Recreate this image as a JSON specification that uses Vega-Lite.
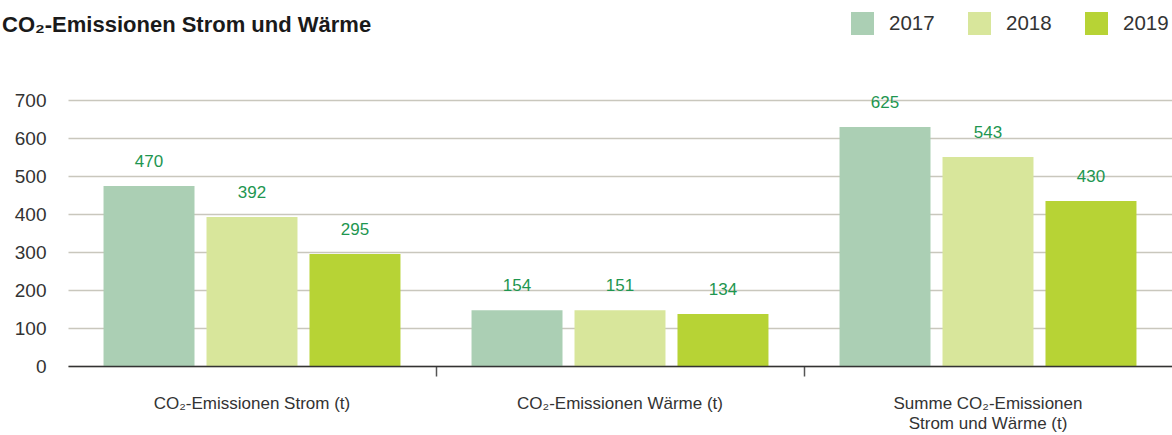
{
  "$schema": "https://vega.github.io/schema/vega-lite/v6.json",
  "autosize": {"type": "none"},
  "width": 1104,
  "height": 266,
  "padding": {"left": 68, "top": 100, "right": 0, "bottom": 69},
  "background": "white",
  "title": {
    "text": "CO₂-Emissionen Strom und Wärme",
    "anchor": "start",
    "frame": "group",
    "dx": -66,
    "dy": 25,
    "fontSize": 22,
    "fontWeight": "bold",
    "font": "Liberation Sans",
    "color": "#1a1a1a",
    "offset": 0
  },
  "data": {
    "values": [
      {"group": "CO₂-Emissionen Strom (t)", "year": "2017", "value": 474, "label": "470"},
      {"group": "CO₂-Emissionen Strom (t)", "year": "2018", "value": 392, "label": "392"},
      {"group": "CO₂-Emissionen Strom (t)", "year": "2019", "value": 295, "label": "295"},
      {"group": "CO₂-Emissionen Wärme (t)", "year": "2017", "value": 147, "label": "154"},
      {"group": "CO₂-Emissionen Wärme (t)", "year": "2018", "value": 147, "label": "151"},
      {"group": "CO₂-Emissionen Wärme (t)", "year": "2019", "value": 137, "label": "134"},
      {"group": "Summe CO₂-Emissionen Strom und Wärme (t)", "year": "2017", "value": 629, "label": "625"},
      {"group": "Summe CO₂-Emissionen Strom und Wärme (t)", "year": "2018", "value": 550, "label": "543"},
      {"group": "Summe CO₂-Emissionen Strom und Wärme (t)", "year": "2019", "value": 434, "label": "430"}
    ]
  },
  "encoding": {
    "x": {
      "field": "group",
      "type": "nominal",
      "sort": null,
      "scale": {"paddingInner": 0, "paddingOuter": 0},
      "axis": {
        "title": null,
        "labelAngle": 0,
        "labelFont": "Liberation Sans",
        "labelFontSize": 17,
        "labelColor": "#333333",
        "labelPadding": 19,
        "labelLineHeight": 20,
        "labelLimit": 0,
        "labelExpr": "datum.label == 'Summe CO₂-Emissionen Strom und Wärme (t)' ? ['Summe CO₂-Emissionen', 'Strom und Wärme (t)'] : datum.label",
        "bandPosition": 0,
        "tickSize": 10,
        "tickWidth": 1.5,
        "tickColor": "#555555",
        "tickOpacity": {"condition": {"test": "datum.index === 0", "value": 0}, "value": 1},
        "domainColor": "#333333",
        "domainWidth": 1.5,
        "grid": false,
        "zindex": 1
      }
    },
    "xOffset": {
      "field": "year",
      "type": "nominal",
      "scale": {"paddingInner": 0.1165, "paddingOuter": 0.345}
    },
    "y": {
      "field": "value",
      "type": "quantitative",
      "scale": {"domain": [0, 700], "nice": false},
      "axis": {
        "title": null,
        "values": [0, 100, 200, 300, 400, 500, 600, 700],
        "domain": false,
        "ticks": false,
        "labelFont": "Liberation Sans",
        "labelFontSize": 19,
        "labelColor": "#333333",
        "labelPadding": 22,
        "gridColor": "#c9c7bd",
        "gridWidth": 1.5
      }
    }
  },
  "layer": [
    {
      "mark": {"type": "bar"},
      "encoding": {
        "color": {
          "field": "year",
          "type": "nominal",
          "scale": {"domain": ["2017", "2018", "2019"], "range": ["#abcfb4", "#d8e69b", "#b7d335"]},
          "legend": {
            "title": null,
            "orient": "none",
            "legendX": 783,
            "legendY": -88,
            "direction": "horizontal",
            "symbolType": "square",
            "symbolSize": 529,
            "symbolStrokeWidth": 0,
            "labelFont": "Liberation Sans",
            "labelFontSize": 20.5,
            "labelColor": "#333333",
            "labelOffset": 15,
            "columnPadding": 33,
            "padding": 0
          }
        }
      }
    },
    {
      "mark": {
        "type": "text",
        "baseline": "middle",
        "dy": -24,
        "font": "Liberation Sans",
        "fontSize": 17,
        "color": "#1e9650"
      },
      "encoding": {
        "text": {"field": "label"}
      }
    }
  ],
  "config": {
    "view": {"stroke": null}
  }
}
